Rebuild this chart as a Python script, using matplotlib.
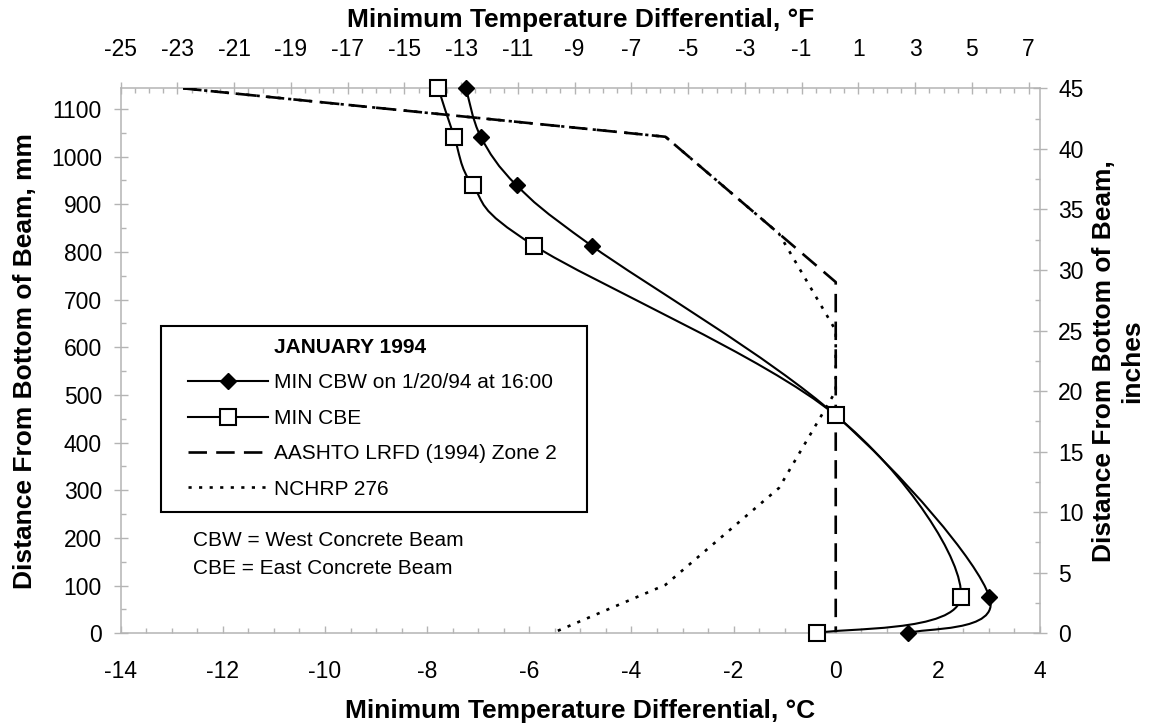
import matplotlib
matplotlib.use('Agg')
import matplotlib.pyplot as plt
from matplotlib.path import Path
from matplotlib.patches import PathPatch, Rectangle
from matplotlib.lines import Line2D
from matplotlib.ticker import MultipleLocator, FixedLocator
import numpy as np

plt.rcParams['font.family'] = ['Liberation Sans', 'DejaVu Sans']
plt.rcParams['axes.unicode_minus'] = False

# measured minimum profiles: height above beam bottom (in), differential (deg C)
cbw_in = [45, 41, 37, 32, 18, 3, 0]
cbw_c = [-7.24, -6.95, -6.25, -4.78, 0.0, 3.01, 1.42]
cbe_in = [45, 41, 37, 32, 18, 3, 0]
cbe_c = [-7.78, -7.47, -7.11, -5.90, 0.0, 2.45, -0.37]

# design gradients: height (in), differential (deg F)
aashto_in = [45, 41, 29, 0]
aashto_f = [-23, -6, 0, 0]
nchrp_in = [45, 41, 33, 25, 20, 12, 4, 0]
nchrp_f = [-23, -6, -2, 0, 0, -2, -6, -10]

top_ticks_f = list(range(-25, 8, 2))

MM = 25.4
GRAY = '#b4b4b4'


def smooth_path(xs, ys):
    # excel style smoothed line -> cubic bezier segments
    p = np.column_stack([xs, ys]).astype(float)
    n = len(p)
    verts = [p[0]]
    codes = [Path.MOVETO]
    for i in range(n - 1):
        p0 = p[max(i - 1, 0)]
        p3 = p[min(i + 2, n - 1)]
        c1 = p[i] + (p[i + 1] - p0) / 6
        c2 = p[i + 1] - (p3 - p[i]) / 6
        verts += [c1, c2, p[i + 1]]
        codes += [Path.CURVE4] * 3
    return Path(verts, codes)


fig = plt.figure(figsize=(11.57, 7.27), dpi=100)
fig.subplots_adjust(left=0.1043, right=0.8989, bottom=0.1289, top=0.8785)
ax = fig.add_subplot(111)
ax_t = ax.twiny()
ax_r = ax.twinx()
ax.set_zorder(5)
ax.patch.set_visible(False)

cbw_mm = [v * MM for v in cbw_in]
cbe_mm = [v * MM for v in cbe_in]

ax.add_patch(PathPatch(smooth_path(cbw_c, cbw_mm), fill=False, lw=1.5, ec='k', zorder=3))
ax.add_patch(PathPatch(smooth_path(cbe_c, cbe_mm), fill=False, lw=1.5, ec='k', zorder=3))

dash = (7, 3.5)
dot = (1.2, 2.8)
ax.plot([f / 1.8 for f in aashto_f], [v * MM for v in aashto_in], color='k', lw=1.9,
        dashes=dash, zorder=2)
ax.plot([f / 1.8 for f in nchrp_f], [v * MM for v in nchrp_in], color='k', lw=1.9,
        dashes=dot, zorder=2)

ax.plot(cbw_c, cbw_mm, ls='none', marker='D', ms=8.5, mfc='k', mec='k', zorder=6, clip_on=False)
ax.plot(cbe_c, cbe_mm, ls='none', marker='s', ms=11, mfc='white', mec='k', mew=1.5,
        zorder=7, clip_on=False)

# axes ranges
ax.set_xlim(-14, 4)
ax.set_ylim(0, 45 * MM)
ax_t.set_xlim(-25, 7.4)
ax_r.set_ylim(0, 45)

ax.xaxis.set_major_locator(MultipleLocator(2))
ax.xaxis.set_minor_locator(MultipleLocator(0.5))
ax.yaxis.set_major_locator(MultipleLocator(100))
ax.yaxis.set_minor_locator(MultipleLocator(50))
ax_t.xaxis.set_major_locator(FixedLocator(top_ticks_f))
ax_t.xaxis.set_minor_locator(MultipleLocator(0.5))
ax_r.yaxis.set_major_locator(MultipleLocator(5))
ax_r.yaxis.set_minor_locator(MultipleLocator(2.5))

for a in (ax, ax_t, ax_r):
    for s in a.spines.values():
        s.set_visible(False)
        s.set_color(GRAY)
        s.set_linewidth(1.1)
ax.spines['left'].set_visible(True)
ax.spines['bottom'].set_visible(True)
ax_t.spines['top'].set_visible(True)
ax_r.spines['right'].set_visible(True)

ax.tick_params(axis='x', which='major', direction='in', length=5, width=1, color=GRAY,
               pad=19, labelsize=16.5)
ax.tick_params(axis='x', which='minor', direction='in', length=3.5, width=1, color=GRAY)
ax.tick_params(axis='y', which='major', direction='inout', length=10, width=1, color=GRAY,
               pad=8.5, labelsize=16.5)
ax.tick_params(axis='y', which='minor', direction='in', length=3.5, width=1, color=GRAY)
ax_t.tick_params(axis='x', which='major', direction='inout', length=9, width=1, color=GRAY,
                 pad=15, labelsize=16.5)
ax_t.tick_params(axis='x', which='minor', direction='in', length=3.5, width=1, color=GRAY)
ax_r.tick_params(axis='y', which='major', direction='inout', length=10, width=1, color=GRAY,
                 pad=8, labelsize=16.5)
ax_r.tick_params(axis='y', which='minor', direction='in', length=3.5, width=1, color=GRAY)

lab = dict(fontsize=19, fontweight='bold')
ax.set_xlabel('Minimum Temperature Differential, °C', labelpad=12, **lab)
ax_t.set_xlabel('Minimum Temperature Differential, °F', labelpad=8, **lab)
ax.set_ylabel('Distance From Bottom of Beam, mm', labelpad=10, **lab)
ax_r.set_ylabel('Distance From Bottom of Beam,\ninches', labelpad=6, multialignment='center', **lab)

# legend
handles = [
    Line2D([], [], color='none'),
    Line2D([], [], color='k', lw=1.5, marker='D', ms=8.5, mfc='k'),
    Line2D([], [], color='k', lw=1.5, marker='s', ms=11, mfc='white', mew=1.5),
    Line2D([], [], color='k', lw=1.9, dashes=dash),
    Line2D([], [], color='k', lw=1.9, dashes=dot),
]
labels = ['JANUARY 1994', 'MIN CBW on 1/20/94 at 16:00', 'MIN CBE',
          'AASHTO LRFD (1994) Zone 2', 'NCHRP 276']
leg = ax.legend(handles, labels, loc='upper left', bbox_to_anchor=(0.0732, 0.542),
                frameon=False, fontsize=15, handlelength=3.84, handletextpad=0.29,
                labelspacing=0.79, borderpad=0, borderaxespad=0)
leg.get_texts()[0].set_fontweight('bold')
leg.set_zorder(8)

ax.add_patch(Rectangle((0.0438, 0.222), 0.4634, 0.342, transform=ax.transAxes,
                       fill=False, ec='k', lw=1.5, zorder=8))

ax.text(0.0789, 0.171, 'CBW = West Concrete Beam', transform=ax.transAxes,
        fontsize=15, va='center', ha='left')
ax.text(0.0789, 0.118, 'CBE = East Concrete Beam', transform=ax.transAxes,
        fontsize=15, va='center', ha='left')

fig.savefig('out.png', dpi=100, facecolor='white')
